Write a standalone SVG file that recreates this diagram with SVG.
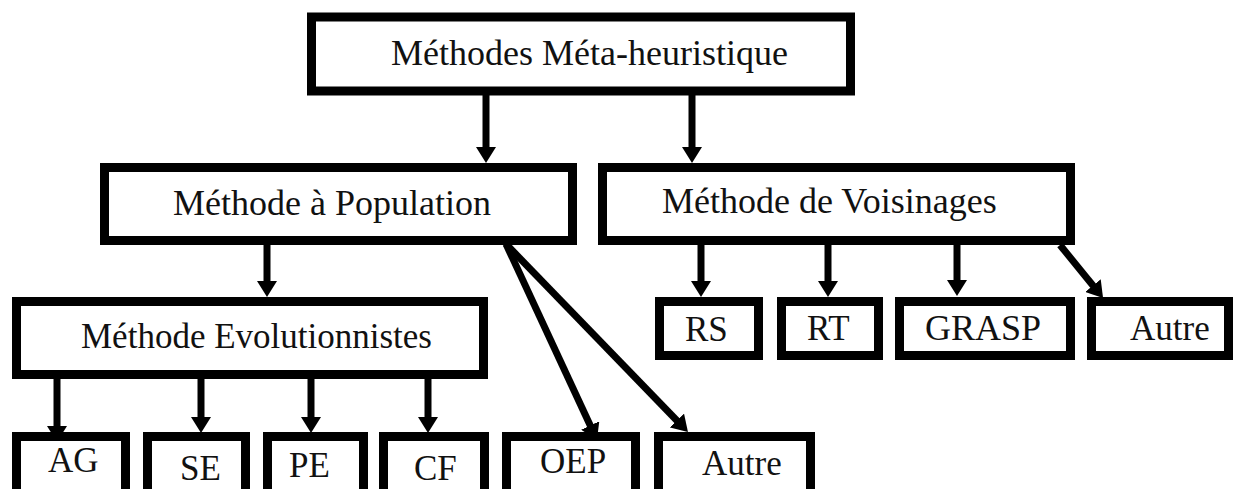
<svg xmlns="http://www.w3.org/2000/svg" width="1236" height="489" viewBox="0 0 1236 489">
<style>
.box{fill:#fff;stroke:#000;stroke-width:9}
.lbl{font-family:"Liberation Serif","Times New Roman",serif;font-size:36px;fill:#111}
.sm{font-size:35px}
.con{stroke:#000;stroke-width:7;fill:none;marker-end:url(#ah)}
</style>
<defs>
<marker id="ah" viewBox="0 0 16 20" refX="8" refY="10" markerWidth="16" markerHeight="20" markerUnits="userSpaceOnUse" orient="auto">
<path d="M0,0 L16,10 L0,20 z" fill="#000"/>
</marker>
</defs>
<rect width="1236" height="489" fill="#fff"/>
<g id="connectors">
<line class="con" x1="486" y1="95" x2="486" y2="155"/>
<line class="con" x1="692" y1="95" x2="692" y2="155"/>
<line class="con" x1="267" y1="245" x2="267" y2="289"/>
<line class="con" x1="506" y1="244" x2="593.6" y2="432.7"/>
<line class="con" x1="506" y1="244" x2="682.4" y2="426.3"/>
<line class="con" x1="57" y1="379" x2="57" y2="434"/>
<line class="con" x1="201" y1="379" x2="201" y2="425"/>
<line class="con" x1="311" y1="379" x2="311" y2="425"/>
<line class="con" x1="428" y1="379" x2="428" y2="425"/>
<line class="con" x1="701" y1="245" x2="701" y2="289"/>
<line class="con" x1="828" y1="245" x2="828" y2="289"/>
<line class="con" x1="957" y1="245" x2="957" y2="288"/>
<line class="con" x1="1060" y1="245" x2="1098" y2="291.8"/>
</g>
<g id="n-meta"><rect class="box" x="311.5" y="17" width="539" height="74"/><text class="lbl" x="391" y="65">Méthodes Méta-heuristique</text></g>
<g id="n-population"><rect class="box" x="104.5" y="167.5" width="468" height="73"/><text class="lbl" x="173" y="215">Méthode à Population</text></g>
<g id="n-voisinages"><rect class="box" x="602.5" y="167.5" width="468" height="73"/><text class="lbl" x="662" y="213">Méthode de Voisinages</text></g>
<g id="n-evol"><rect class="box" x="16.5" y="301.5" width="467" height="73"/><text class="lbl sm" x="81" y="348">Méthode Evolutionnistes</text></g>
<g id="n-ag"><rect class="box" x="16.5" y="436.5" width="109" height="62"/><text class="lbl sm" x="48" y="472">AG</text></g>
<g id="n-se"><rect class="box" x="147.5" y="436.5" width="98" height="62"/><text class="lbl sm" x="180" y="480">SE</text></g>
<g id="n-pe"><rect class="box" x="267.5" y="436.5" width="96" height="62"/><text class="lbl sm" x="289" y="477">PE</text></g>
<g id="n-cf"><rect class="box" x="383.5" y="436.5" width="101" height="62"/><text class="lbl sm" x="414" y="480">CF</text></g>
<g id="n-oep"><rect class="box" x="506.5" y="436.5" width="129" height="62"/><text class="lbl sm" x="540" y="473">OEP</text></g>
<g id="n-autre1"><rect class="box" x="658.5" y="436.5" width="152" height="62"/><text class="lbl sm" x="702" y="475">Autre</text></g>
<g id="n-rs"><rect class="box" x="659.5" y="301.5" width="99" height="54"/><text class="lbl sm" x="685" y="341">RS</text></g>
<g id="n-rt"><rect class="box" x="781.5" y="301.5" width="97" height="54"/><text class="lbl sm" x="807" y="340">RT</text></g>
<g id="n-grasp"><rect class="box" x="899.5" y="301.5" width="171" height="54"/><text class="lbl" x="925" y="340">GRASP</text></g>
<g id="n-autre2"><rect class="box" x="1091.5" y="301.5" width="137" height="54"/><text class="lbl sm" x="1130" y="340">Autre</text></g>
</svg>
